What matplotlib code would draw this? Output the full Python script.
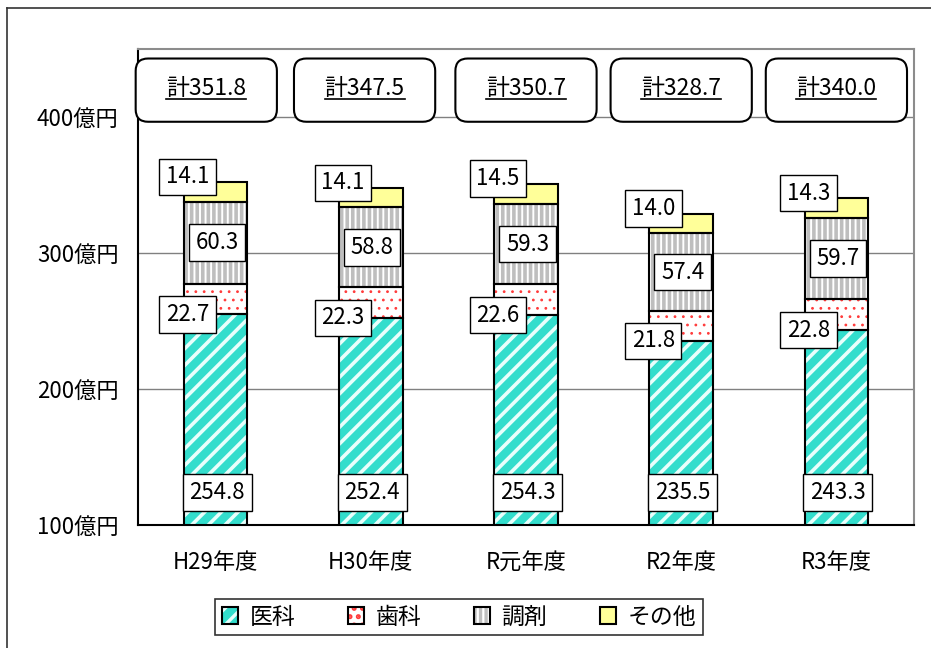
import matplotlib
matplotlib.use("Agg")
import matplotlib.pyplot as plt
from matplotlib.patches import Patch, FancyBboxPatch
from matplotlib.lines import Line2D
from matplotlib.legend_handler import HandlerTuple
import numpy as np

plt.rcParams['font.family'] = ['Noto Sans CJK JP', 'DejaVu Sans']
plt.rcParams['hatch.linewidth'] = 2.4

categories = ['H29年度', 'H30年度', 'R元年度', 'R2年度', 'R3年度']
ika = [254.8, 252.4, 254.3, 235.5, 243.3]
shika = [22.7, 22.3, 22.6, 21.8, 22.8]
chozai = [60.3, 58.8, 59.3, 57.4, 59.7]
sonota = [14.1, 14.1, 14.5, 14.0, 14.3]
totals = [351.8, 347.5, 350.7, 328.7, 340.0]
series_names = ['医科', '歯科', '調剤', 'その他']
yticks = [100, 200, 300, 400]
ytick_labels = ['100億円', '200億円', '300億円', '400億円']

W, H = 931, 648
fig = plt.figure(figsize=(W / 100, H / 100), dpi=100)
ax = fig.add_axes([138 / W, 1 - 525 / H, (914 - 138) / W, (525 - 49) / H])

x = np.arange(len(categories))
bw = 0.41

styles = [
    dict(face='#33DDCC', hcol='#E8FFFC', hatch='//', hlw=2.6),
    dict(face='#FFFFFF', hcol='#FF3B3B', hatch='..', hlw=0.8),
    dict(face='#FFFFFF', hcol='#BEBEBE', hatch='|||', hlw=2.6),
    dict(face='#FFFF99', hcol='#FFFF99', hatch='', hlw=1.0),
]
data = [ika, shika, chozai, sonota]


def set_hlw(p, lw):
    if hasattr(p, 'set_hatch_linewidth'):
        p.set_hatch_linewidth(lw)


bottom = np.zeros(len(categories))
handles = []
for vals, st in zip(data, styles):
    vals = np.array(vals)
    with plt.rc_context({'hatch.linewidth': st['hlw']}):
        hb = ax.bar(x, vals, bw, bottom=bottom, color=st['face'],
                    edgecolor=st['hcol'], linewidth=0, hatch=st['hatch'], zorder=2)
    for p in hb:
        set_hlw(p, st['hlw'])
    ax.bar(x, vals, bw, bottom=bottom, fill=False, edgecolor='black',
           linewidth=1.5, zorder=3)
    with plt.rc_context({'hatch.linewidth': st['hlw']}):
        hp = Patch(facecolor=st['face'], edgecolor=st['hcol'], linewidth=0, hatch=st['hatch'])
    set_hlw(hp, st['hlw'])
    op = Patch(fill=False, edgecolor='black', linewidth=1.5)
    handles.append((hp, op))
    bottom = bottom + vals

ax.set_xlim(-0.5, 4.5)
ax.set_ylim(100, 450)
ax.set_yticks(yticks)
ax.set_yticklabels(ytick_labels, fontsize=16)
ax.set_xticks(x)
ax.set_xticklabels(categories, fontsize=16)
ax.tick_params(axis='y', length=0, pad=14)
ax.tick_params(axis='x', length=0, pad=19)
ax.yaxis.grid(True, color='#808080', linewidth=1, zorder=0)
ax.set_axisbelow(True)
for s in ['top', 'right']:
    ax.spines[s].set_color('#8C8C8C')
    ax.spines[s].set_linewidth(1.5)
for s in ['left', 'bottom']:
    ax.spines[s].set_color('black')
    ax.spines[s].set_linewidth(1.5)

box = dict(boxstyle='square,pad=0.3', facecolor='white', edgecolor='black', linewidth=1)
fs = 16
b1 = np.array(ika)
b2 = b1 + np.array(shika)
b3 = b2 + np.array(chozai)
b4 = b3 + np.array(sonota)
for i in range(len(categories)):
    ax.text(x[i] + 0.01, 124, f'{ika[i]:.1f}', ha='center', va='center', fontsize=fs, bbox=box, zorder=5)
    ax.text(x[i] - 0.18, b1[i], f'{shika[i]:.1f}', ha='center', va='center', fontsize=fs, bbox=box, zorder=5)
    ax.text(x[i] + 0.01, b2[i] + chozai[i] / 2, f'{chozai[i]:.1f}', ha='center', va='center', fontsize=fs, bbox=box, zorder=5)
    ax.text(x[i] - 0.18, b4[i] + 4, f'{sonota[i]:.1f}', ha='center', va='center', fontsize=fs, bbox=box, zorder=5)

# total boxes
ax_w_px = (914 - 138)
ax_h_px = (525 - 49)
ratio = (ax_w_px / 5.0) / (ax_h_px / 350.0)
box_dx = [-0.06, -0.04, 0.0, 0.0, 0.0]
total_texts = []
for i, t in enumerate(totals):
    cx = x[i] + box_dx[i]
    p = FancyBboxPatch((cx - 0.455, 396.5), 0.91, 46.5,
                       boxstyle='round,pad=0,rounding_size=0.08',
                       mutation_aspect=ratio, facecolor='white', edgecolor='black',
                       linewidth=1.5, zorder=6, clip_on=False)
    ax.add_patch(p)
    tt = ax.text(cx, 421, f'計{t:.1f}', ha='center', va='center', fontsize=16.5, zorder=7)
    total_texts.append(tt)

leg = fig.legend(handles, series_names, handler_map={tuple: HandlerTuple(ndivide=1)},
                 loc='center', bbox_to_anchor=(459 / W, 1 - 617 / H), ncol=4,
                 fontsize=16.5, frameon=True, fancybox=False, edgecolor='black',
                 handlelength=0.7, handleheight=0.7, handletextpad=0.5,
                 columnspacing=2.3, borderpad=0.3)
leg.get_frame().set_linewidth(1.2)

# outer border (left and top)
fig.add_artist(Line2D([7 / W, 7 / W], [0, 1 - 8 / H], transform=fig.transFigure, color='#333333', linewidth=1.2))
fig.add_artist(Line2D([7 / W, 1], [1 - 8 / H, 1 - 8 / H], transform=fig.transFigure, color='#333333', linewidth=1.2))

# underline totals
fig.canvas.draw()
r = fig.canvas.get_renderer()
inv = fig.transFigure.inverted()
for tt in total_texts:
    bb = tt.get_window_extent(r)
    y0 = bb.y0 + 1
    (fx0, fy), (fx1, _) = inv.transform([(bb.x0, y0), (bb.x1, y0)])
    fig.add_artist(Line2D([fx0, fx1], [fy, fy], transform=fig.transFigure, color='black', linewidth=1.2, zorder=10))

fig.savefig('out.png', dpi=100)
